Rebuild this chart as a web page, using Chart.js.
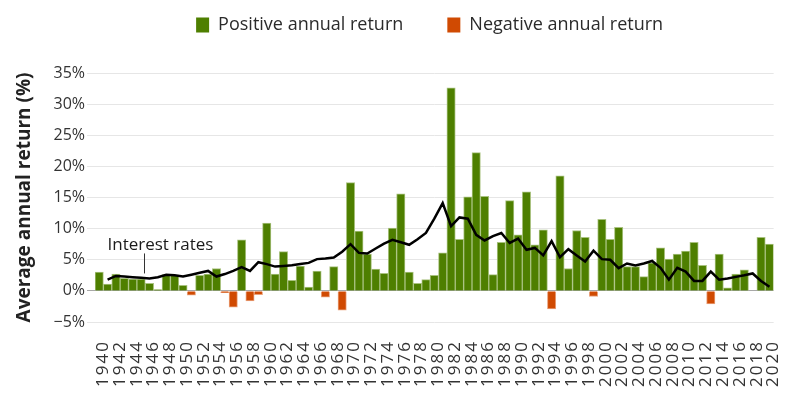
<!DOCTYPE html>
<html>
<head>
<meta charset="utf-8">
<title>Annual return and interest rates</title>
<script src="https://cdn.jsdelivr.net/npm/chart.js@4.4.1/dist/chart.umd.min.js"></script>
<style>
  html, body { margin: 0; padding: 0; background: #fff; }
  #wrap { width: 800px; height: 400px; }
</style>
</head>
<body>
<div id="wrap"><canvas id="myChart" width="800" height="400"></canvas></div>
<script>
// Years on the x axis (1940 - 2020)
const years = Array.from({ length: 81 }, (_, i) => String(1940 + i));

// Annual return per year (%)
const returns = [
  3.0, 1.1, 2.7, 2.0, 1.9, 1.9, 1.2, 0.2, 2.6, 2.5,        // 1940-1949
  0.9, -0.7, 2.5, 2.7, 3.6, -0.3, -2.6, 8.2, -1.6, -0.6,   // 1950-1959
  10.9, 2.7, 6.3, 1.7, 4.0, 0.6, 3.2, -1.0, 3.9, -3.1,     // 1960-1969
  17.4, 9.6, 5.9, 3.5, 2.8, 10.1, 15.6, 3.0, 1.2, 1.8,     // 1970-1979
  2.5, 6.1, 32.6, 8.3, 15.1, 22.2, 15.2, 2.6, 7.8, 14.5,   // 1980-1989
  9.0, 15.9, 7.4, 9.8, -2.9, 18.5, 3.6, 9.7, 8.6, -0.9,    // 1990-1999
  11.5, 8.3, 10.2, 3.9, 3.9, 2.3, 4.5, 6.9, 5.1, 5.9,      // 2000-2009
  6.4, 7.8, 4.1, -2.1, 5.9, 0.5, 2.7, 3.4, 0, 8.6,         // 2010-2019
  7.5                                                      // 2020
];

// Interest rates (%) - the black line, starts in 1941
const rates = [
  null, 1.8, 2.4, 2.3, 2.2, 2.1, 2.0, 2.2, 2.6, 2.5,       // 1940-1949
  2.3, 2.6, 2.9, 3.2, 2.3, 2.7, 3.2, 3.8, 3.2, 4.6,        // 1950-1959
  4.3, 3.9, 4.0, 4.1, 4.3, 4.5, 5.1, 5.2, 5.35, 6.3,       // 1960-1969
  7.5, 6.1, 6.0, 6.8, 7.6, 8.2, 7.8, 7.4, 8.3, 9.3,        // 1970-1979
  11.6, 14.1, 10.4, 11.8, 11.6, 9.0, 8.1, 8.8, 9.3, 7.7,   // 1980-1989
  8.4, 6.6, 6.9, 5.7, 8.0, 5.4, 6.7, 5.7, 4.7, 6.45,       // 1990-1999
  5.1, 5.0, 3.65, 4.4, 4.1, 4.4, 4.8, 3.7, 1.8, 3.7,       // 2000-2009
  3.1, 1.6, 1.6, 3.1, 1.8, 2.0, 2.25, 2.5, 2.8, 1.6,       // 2010-2019
  0.65                                                     // 2020
];

// Y axis range and step
const yMin = -5;
const yMax = 35;
const yStep = 5;

const green = '#4e7f00';
const greenEdge = '#a9c27f';
const red = '#d04a02';
const redEdge = '#eaa27c';
const font = "'Open Sans', sans-serif";

// Where the "Interest rates" label points (category index, value)
const labelIndex = 5.4;
const labelValue = 2.8;

// Push the chart area down below the legend
const legendSpace = {
  id: 'legendSpace',
  beforeInit(chart) {
    const fitLegend = chart.legend.fit;
    chart.legend.fit = function () {
      fitLegend.call(this);
      this.height = 73;
    };
  }
};

// "Interest rates" label with its small leader line
const rateLabel = {
  id: 'rateLabel',
  afterDatasetsDraw(chart) {
    const { ctx, scales: { x, y } } = chart;
    const px = Math.round(x.getPixelForValue(labelIndex)) + 0.5;
    const bottom = y.getPixelForValue(labelValue);
    ctx.save();
    ctx.strokeStyle = '#333';
    ctx.lineWidth = 1;
    ctx.beginPath();
    ctx.moveTo(px, bottom);
    ctx.lineTo(px, bottom - 20);
    ctx.stroke();
    ctx.font = '17px ' + font;
    ctx.fillStyle = '#1a1a1a';
    ctx.textAlign = 'left';
    ctx.textBaseline = 'alphabetic';
    ctx.fillText('Interest rates', px - 37, bottom - 23);
    ctx.restore();
  }
};

const ctx = document.getElementById('myChart').getContext('2d');

const chart = new Chart(ctx, {
  data: {
    labels: years,
    datasets: [
      {
        type: 'line',
        label: 'Interest rates',
        data: rates,
        borderColor: '#000',
        borderWidth: 2.5,
        pointRadius: 0,
        tension: 0,
        order: 0
      },
      {
        type: 'bar',
        label: 'Positive annual return',
        data: returns.map(v => (v >= 0 ? v : null)),
        backgroundColor: green,
        borderColor: greenEdge,
        borderWidth: 1,
        grouped: false,
        barPercentage: 1,
        categoryPercentage: 1,
        order: 1
      },
      {
        type: 'bar',
        label: 'Negative annual return',
        data: returns.map(v => (v < 0 ? v : null)),
        backgroundColor: red,
        borderColor: redEdge,
        borderWidth: 1,
        grouped: false,
        barPercentage: 1,
        categoryPercentage: 1,
        order: 1
      }
    ]
  },
  options: {
    responsive: false,
    animation: false,
    layout: { padding: { top: 0, right: 10, bottom: 0, left: 0 } },
    plugins: {
      legend: {
        position: 'top',
        fullSize: false,
        labels: {
          // only the two bar series; trailing spaces widen the gap between them
          generateLabels: c => Chart.defaults.plugins.legend.labels.generateLabels(c)
            .filter(item => item.datasetIndex !== 0)
            .map(item => {
              item.lineWidth = 0;
              item.text += item.datasetIndex === 1 ? '      ' : '  ';
              return item;
            }),
          boxWidth: 13,
          boxHeight: 15,
          padding: 16,
          color: '#2b2b2b',
          font: { family: font, size: 18 }
        }
      },
      tooltip: { enabled: false }
    },
    scales: {
      x: {
        grid: { display: false },
        border: { display: false },
        ticks: {
          autoSkip: false,
          minRotation: 90,
          maxRotation: 90,
          padding: 10,
          labelOffset: 4,
          color: '#333',
          font: { family: font, size: 17 },
          callback: (value, i) => (i % 2 === 0 ? years[i] : '')
        },
        afterFit: scale => {
          scale.height = 78;
          if (!scale._spaced) {
            // the reference tick years are letter-spaced
            const drawLabels = scale.drawLabels;
            scale.drawLabels = function (area) {
              this.ctx.save();
              this.ctx.letterSpacing = '2px';
              drawLabels.call(this, area);
              this.ctx.restore();
            };
            scale._spaced = true;
          }
        }
      },
      y: {
        min: yMin,
        max: yMax,
        border: { display: false },
        grid: {
          color: c => (c.tick.value === 0 ? '#a8a8a8' : '#e6e6e6'),
          tickLength: 8
        },
        ticks: {
          stepSize: yStep,
          padding: 2,
          color: '#333',
          font: { family: font, size: 16 },
          callback: v => (v < 0 ? '\u2212' + Math.abs(v) : v) + '%'
        },
        title: {
          display: true,
          text: 'Average annual return (%)',
          color: '#222',
          padding: { top: 13, bottom: 0 },
          font: { family: font, size: 19, weight: 'bold' }
        },
        afterFit: scale => { scale.width = 95; }
      }
    }
  },
  plugins: [legendSpace, rateLabel]
});
</script>
</body>
</html>
